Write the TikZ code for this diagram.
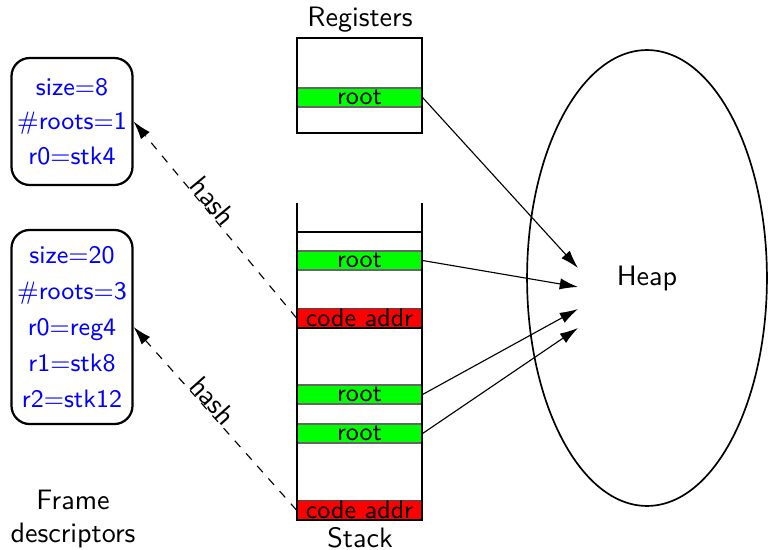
\documentclass[tikz,border=0pt]{standalone}
\usetikzlibrary{shapes.geometric,arrows.meta}
\renewcommand{\familydefault}{\sfdefault}
\tikzset{
  rootslot/.style={fill=green, draw=black!60, thin, minimum width=44.5pt,
    minimum height=6.8pt, inner sep=0pt, font=\small},
  codeslot/.style={rootslot, fill=red, draw=black!70},
  descbox/.style={draw, thick, rounded corners=6.5pt, minimum width=41.3pt,
    align=center, text=blue, font=\small, inner sep=2pt},
  ptr/.style={-{Latex[length=6.5pt,width=4pt]}, thin},
  hashptr/.style={ptr, dashed},
}
\begin{document}
\begin{tikzpicture}[x=0.356pt,y=-0.356pt]
  \useasboundingbox (0,0) rectangle (768,550);
  % registers
  \node (regtitle) at (360,20) {Registers};
  \node[rootslot] (regroot) at (359.5,97.5) {root};
  \draw[thick] (297,38) rectangle (422,133);
  % stack
  \node[rootslot] (root1) at (359.5,260.5) {root};
  \node[codeslot] (code1) at (359.5,318) {code addr};
  \node[rootslot] (root2) at (359.5,394.5) {root};
  \node[rootslot] (root3) at (359.5,433.5) {root};
  \node[codeslot] (code2) at (359.5,510) {code addr};
  \draw[thick] (297,203) -- (297,520) -- (422,520) -- (422,203);
  \draw[thick] (297,232) -- (422,232);
  \draw[thick] (297,328) -- (422,328);
  \node (stacktitle) at (360,538) {Stack};
  % heap
  \node[draw, semithick, ellipse, minimum width=85.4pt, minimum height=162.3pt]
    (heap) at (647,278) {Heap};
  \coordinate (h1) at (578,268);
  \coordinate (h2) at (578,287);
  \coordinate (h3) at (578,309);
  \coordinate (h4) at (578,328);
  % frame descriptors
  \node[descbox, minimum height=45.2pt] (desc1) at (72,121.5)
    {size=8\\[1.2pt] \#roots=1\\[1.2pt] r0=stk4};
  \node[descbox, minimum height=69.1pt] (desc2) at (72,327)
    {size=20\\[1.8pt] \#roots=3\\[1.8pt] r0=reg4\\[1.8pt] r1=stk8\\[1.8pt] r2=stk12};
  \node[align=center] (desctitle) at (73,519) {Frame\\descriptors};
  % pointers
  \draw[ptr] (regroot.east) -- (h1);
  \draw[ptr] (root1.east) -- (h2);
  \draw[ptr] (root2.east) -- (h3);
  \draw[ptr] (root3.east) -- (h4);
  \draw[hashptr] (code1.west) -- node[pos=0.56, sloped, above, inner sep=0pt] {hash} (desc1.east);
  \draw[hashptr] (code2.west) -- node[pos=0.56, sloped, above, inner sep=0pt] {hash} (desc2.east);
\end{tikzpicture}
\end{document}
